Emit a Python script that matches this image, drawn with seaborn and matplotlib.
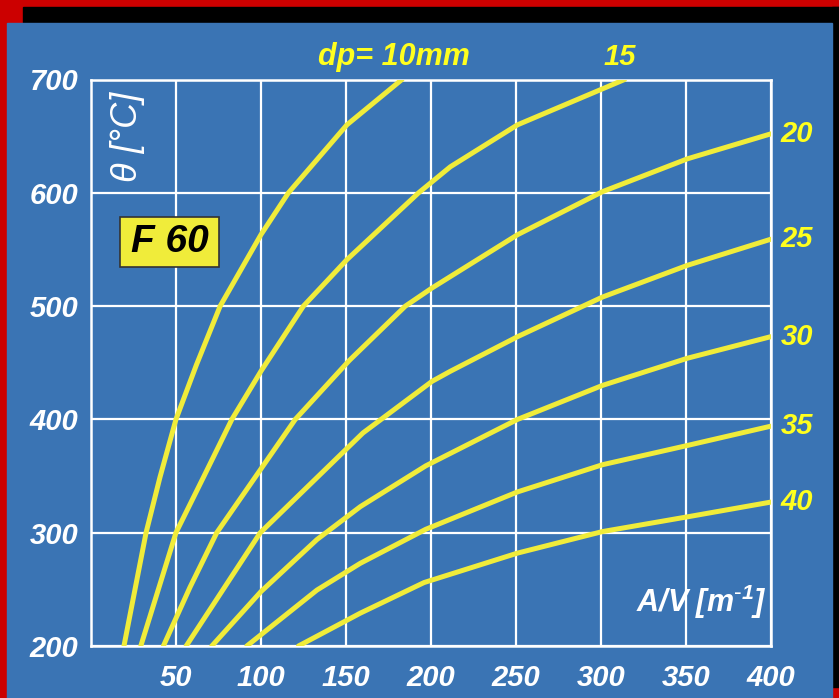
import numpy as np
import pandas as pd
import matplotlib
matplotlib.use("Agg")
import matplotlib.pyplot as plt
import seaborn as sns
from matplotlib.patches import Rectangle

# ---- data ----
diameters = [10, 15, 20, 25, 30, 35, 40]
av_10 = [19.4, 32.4, 40.6, 50, 62, 76, 100, 116.2, 150.6, 183]
th_10 = [200, 300, 349, 400, 448, 500, 563, 600, 660, 700]
av_15 = [29.3, 50, 66.2, 82.9, 100, 125, 150.6, 192.8, 211.5, 251, 314]
th_15 = [200, 300, 349, 400, 442.5, 500, 541, 600, 623, 660, 700]
av_20 = [42.6, 58.3, 74, 120.2, 152, 185, 200.7, 251, 301, 351, 400]
th_20 = [200, 252, 300, 400, 452, 500, 516, 563, 601, 630, 652]
av_25 = [56, 99.6, 160, 200.7, 211.5, 251, 301, 351, 400]
th_25 = [200, 300, 388, 433.6, 442.5, 473, 508, 536, 559]
av_30 = [71.1, 100, 133, 158.5, 197, 251, 301, 351, 400]
th_30 = [200, 248, 294, 323, 359, 400, 430, 454, 473]
av_35 = [91.7, 133, 158.5, 197, 251, 301, 351, 400]
th_35 = [200, 249.4, 273, 303, 336, 360, 377, 394]
av_40 = [122.1, 158.5, 196, 251, 301, 351, 400]
th_40 = [200, 229, 256, 282, 301, 314, 327]
x_ticks = [50, 100, 150, 200, 250, 300, 350, 400]
y_ticks = [200, 300, 400, 500, 600, 700]
right_labels = ["20", "25", "30", "35", "40"]

curves = [(av_10, th_10), (av_15, th_15), (av_20, th_20), (av_25, th_25),
          (av_30, th_30), (av_35, th_35), (av_40, th_40)]
rows = []
for d, (xs, ys) in zip(diameters, curves):
    for xv, yv in zip(xs, ys):
        rows.append({"dp": d, "AV": xv, "theta": yv})
df = pd.DataFrame(rows)

# ---- style ----
BLUE = "#3A74B4"
RED = "#CC0000"
LINE_Y = "#F0EC3A"
TXT_Y = "#FFFF1E"
sns.set_style("white")
plt.rcParams["font.family"] = ["Liberation Sans", "DejaVu Sans"]
plt.rcParams["mathtext.default"] = "regular"

W, H = 839, 698
fig = plt.figure(figsize=(W / 100, H / 100), dpi=100)
fig.patch.set_facecolor(RED)
# black strips and blue panel
fig.add_artist(Rectangle((23.3 / W, 1 - 23.3 / H), 1, (23.3 - 6.7) / H,
                         transform=fig.transFigure, color="black", zorder=0))
fig.add_artist(Rectangle((831.7 / W, 1 - 686.7 / H), 1, (686.7 - 6.7) / H,
                         transform=fig.transFigure, color="black", zorder=0))
fig.add_artist(Rectangle((7.3 / W, 0), (831.7 - 7.3) / W, 1 - 23.3 / H,
                         transform=fig.transFigure, color=BLUE, zorder=0))

ax = fig.add_axes([91 / W, 1 - 646 / H, (770.7 - 91) / W, (646 - 79.5) / H])
ax.set_facecolor(BLUE)

sns.lineplot(data=df, x="AV", y="theta", hue="dp", units="dp", estimator=None,
             palette=[LINE_Y] * len(diameters), legend=False, linewidth=3.6,
             ax=ax, zorder=5, sort=True)
for ln in ax.get_lines():
    ln.set_solid_joinstyle("round")

ax.set_xlim(0, 400)
ax.set_ylim(200, 700)
ax.set_xticks(x_ticks)
ax.set_yticks(y_ticks)
ax.grid(True, color="white", linewidth=1.6)
ax.set_axisbelow(True)
for sp in ax.spines.values():
    sp.set_color("white")
    sp.set_linewidth(1.8)
ax.tick_params(length=0, labelcolor="white", labelsize=21)
ax.tick_params(axis="x", pad=13)
ax.tick_params(axis="y", pad=9)
for lab in ax.get_xticklabels() + ax.get_yticklabels():
    lab.set_fontweight("bold")
    lab.set_fontstyle("italic")
ax.set_xlabel("")
ax.set_ylabel("")

# axis titles inside the plot
ax.text(398, 230, r"A/V [m$^{\text{-}1}$]", color="white", fontsize=22,
        fontweight="bold", fontstyle="italic", ha="right", va="baseline", zorder=6)
ax.text(21.5, 649, "θ [°C]", color="white", fontsize=26, fontstyle="italic",
        rotation=90, ha="center", va="center", zorder=6)

# F 60 box
ax.add_patch(Rectangle((17.1, 534.3), 58.5, 44.6, facecolor=LINE_Y,
                       edgecolor="#333333", linewidth=1.2, zorder=7))
ax.text(46.4, 556.6, "F 60", color="black", fontsize=28, fontweight="bold",
        fontstyle="italic", ha="center", va="center", zorder=8)

# curve labels
ax.text(133.7, 713, "dp= 10mm", color=TXT_Y, fontsize=22, fontweight="bold",
        fontstyle="italic", ha="left", va="baseline", clip_on=False)
ax.text(311, 713, "15", color=TXT_Y, fontsize=21, fontweight="bold",
        fontstyle="italic", ha="center", va="baseline", clip_on=False)
for lab, (xs, ys) in zip(right_labels, curves[2:]):
    ax.text(406, ys[-1], lab, color=TXT_Y, fontsize=21, fontweight="bold",
            fontstyle="italic", ha="left", va="center", clip_on=False)

fig.savefig("out.png", dpi=100, facecolor=fig.get_facecolor())
